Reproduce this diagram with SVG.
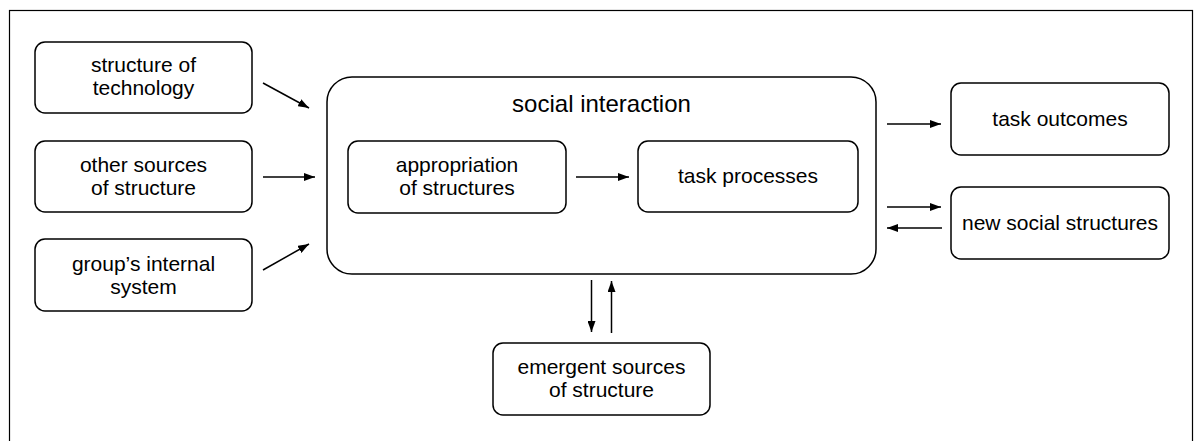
<svg xmlns="http://www.w3.org/2000/svg" width="1194" height="441" viewBox="0 0 1194 441">
  <defs>
    <style>
      .box { fill: #fff; stroke: #000; stroke-width: 1.5; }
      .frame { fill: none; stroke: #000; stroke-width: 1.2; }
      .lbl { font-family: "Liberation Sans", Arial, sans-serif; font-size: 21px; fill: #000; text-anchor: middle; }
      .title { font-size: 24px; }
      .edge { fill: none; stroke: #000; stroke-width: 1.5; marker-end: url(#arrow); }
    </style>
    <marker id="arrow" viewBox="0 0 11 8" refX="11" refY="4" markerWidth="11" markerHeight="8" markerUnits="userSpaceOnUse" orient="auto">
      <path d="M0,0 L11,4 L0,8 Z" fill="#000"/>
    </marker>
  </defs>

  <rect width="1194" height="441" fill="#fff"/>
  <rect class="frame" x="9.5" y="10.5" width="1183" height="450"/>

  <g id="structure-of-technology">
    <rect class="box" x="35" y="42" width="217" height="71" rx="10"/>
    <text class="lbl" x="143.5" y="72">structure of</text>
    <text class="lbl" x="143.5" y="95">technology</text>
  </g>

  <g id="other-sources">
    <rect class="box" x="35" y="141" width="217" height="71" rx="10"/>
    <text class="lbl" x="143.5" y="172">other sources</text>
    <text class="lbl" x="143.5" y="195">of structure</text>
  </g>

  <g id="internal-system">
    <rect class="box" x="35" y="239" width="217" height="72" rx="10"/>
    <text class="lbl" x="143.5" y="271">group’s internal</text>
    <text class="lbl" x="143.5" y="294">system</text>
  </g>

  <g id="social-interaction">
    <rect class="box" x="327" y="77" width="549" height="197" rx="25"/>
    <text class="lbl title" x="601.5" y="112">social interaction</text>
  </g>

  <g id="appropriation">
    <rect class="box" x="348" y="141" width="218" height="72" rx="10"/>
    <text class="lbl" x="457" y="172">appropriation</text>
    <text class="lbl" x="457" y="195">of structures</text>
  </g>

  <g id="task-processes">
    <rect class="box" x="638" y="141" width="220" height="71" rx="10"/>
    <text class="lbl" x="748" y="183">task processes</text>
  </g>

  <g id="task-outcomes">
    <rect class="box" x="951" y="83" width="218" height="72" rx="10"/>
    <text class="lbl" x="1060" y="126">task outcomes</text>
  </g>

  <g id="new-social-structures">
    <rect class="box" x="951" y="187" width="218" height="72" rx="10"/>
    <text class="lbl" x="1060" y="230">new social structures</text>
  </g>

  <g id="emergent-sources">
    <rect class="box" x="493" y="343" width="217" height="72" rx="10"/>
    <text class="lbl" x="601.5" y="374">emergent sources</text>
    <text class="lbl" x="601.5" y="397">of structure</text>
  </g>

  <g id="connectors">
    <line class="edge" x1="263" y1="83" x2="309" y2="108"/>
    <line class="edge" x1="263" y1="177" x2="315" y2="177"/>
    <line class="edge" x1="263" y1="270" x2="309" y2="244"/>
    <line class="edge" x1="576" y1="177" x2="629" y2="177"/>
    <line class="edge" x1="887" y1="124" x2="941" y2="124"/>
    <line class="edge" x1="887" y1="207" x2="941" y2="207"/>
    <line class="edge" x1="942" y1="228" x2="887" y2="228"/>
    <line class="edge" x1="591.5" y1="280" x2="591.5" y2="332"/>
    <line class="edge" x1="611.5" y1="333" x2="611.5" y2="281"/>
  </g>
</svg>
